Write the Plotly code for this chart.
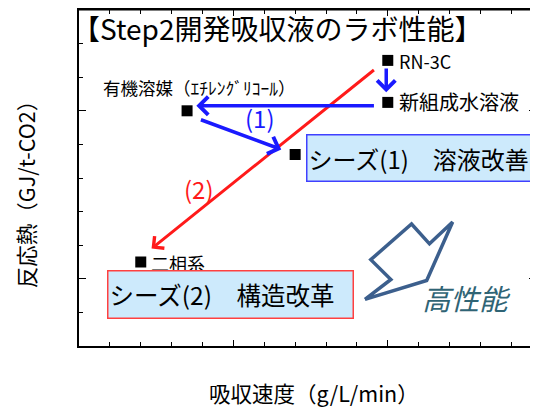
import plotly.graph_objects as go

# 各サンプルの位置（任意単位、目盛ラベルなし）
point_names = ['RN-3C', '新組成水溶液', '有機溶媒', 'シーズ(1)', '二相系']
point_x = [10.0, 10.0, 3.5, 7.0, 2.0]
point_y = [8.5, 7.25, 7.0, 5.7, 2.5]

# 矢印（始点 -> 終点）
red_arrow_x = [9.6, 2.35]
red_arrow_y = [8.25, 2.9]
blue_arrows_x = [[9.95, 9.95], [9.6, 3.8], [3.9, 6.55]]
blue_arrows_y = [[8.3, 7.55], [7.15, 7.15], [6.75, 5.85]]

# 「高性能」ブロック矢印の輪郭
perf_arrow_x = [9.26, 10.10, 9.45, 10.77, 11.35, 12.10, 11.26, 9.26]
perf_arrow_y = [1.39, 1.98, 2.57, 3.63, 3.04, 3.69, 1.95, 1.39]

title_text = '【Step2開発吸収液のラボ性能】'
x_title = '吸収速度（g/L/min）'
y_title = '反応熱（GJ/t-CO2）'
organic_label = '有機溶媒（ｴﾁﾚﾝｸﾞﾘｺｰﾙ）'
box_texts = ['シーズ(1)　溶液改善', 'シーズ(2)　構造改革']
perf_text = '高性能'

FONT = 'Noto Sans CJK JP'
BLUE = '#1a1aff'
RED = '#ff1a1a'
BOX_FILL = '#cdeafc'

fig = go.Figure()

fig.add_trace(go.Scatter(
    x=perf_arrow_x, y=perf_arrow_y, mode='lines',
    line=dict(color='#3c5f8d', width=3.5),
    hoverinfo='skip'
))

fig.add_trace(go.Scatter(
    x=point_x, y=point_y, mode='markers', text=point_names,
    marker=dict(symbol='square', size=11, color='black'),
))

# 矢印
fig.add_annotation(x=red_arrow_x[1], y=red_arrow_y[1], ax=red_arrow_x[0], ay=red_arrow_y[0],
                   xref='x', yref='y', axref='x', ayref='y', text='', showarrow=True,
                   arrowhead=4, arrowsize=1, arrowwidth=3, arrowcolor=RED)
for ax_, ay_ in zip(blue_arrows_x, blue_arrows_y):
    fig.add_annotation(x=ax_[1], y=ay_[1], ax=ax_[0], ay=ay_[0],
                       xref='x', yref='y', axref='x', ayref='y', text='', showarrow=True,
                       arrowhead=4, arrowsize=1, arrowwidth=3.5, arrowcolor=BLUE)

# ラベル
fig.add_annotation(x=point_x[0], y=point_y[0], text=point_names[0], showarrow=False,
                   xanchor='left', xshift=9, yshift=-1, font=dict(size=18))
fig.add_annotation(x=point_x[1], y=point_y[1], text=point_names[1], showarrow=False,
                   xanchor='left', xshift=9, yshift=1, font=dict(size=20))
fig.add_annotation(x=point_x[2], y=point_y[2], text=organic_label, showarrow=False,
                   xanchor='center', xshift=12, yshift=23, font=dict(size=17.5))
fig.add_annotation(x=point_x[4], y=point_y[4], text=point_names[4], showarrow=False,
                   xanchor='left', xshift=8, yshift=-1, font=dict(size=18))

fig.add_annotation(x=5.85, y=6.8, text='(1)', showarrow=False, font=dict(size=24, color=BLUE))
fig.add_annotation(x=3.9, y=4.7, text='(2)', showarrow=False, font=dict(size=24, color=RED))

# シーズの枠
fig.add_annotation(x=point_x[3], y=point_y[3], text=box_texts[0], showarrow=False,
                   xanchor='left', yanchor='middle', xshift=11, yshift=-4,
                   width=232, height=43, align='left', borderpad=1,
                   bgcolor=BOX_FILL, bordercolor='#4040ff', borderwidth=1.5,
                   font=dict(size=24))
fig.add_annotation(x=point_x[4], y=point_y[4], text=box_texts[1], showarrow=False,
                   xanchor='left', yanchor='middle', xshift=-34, yshift=-32,
                   width=242, height=44, align='left', borderpad=1,
                   bgcolor=BOX_FILL, bordercolor='#ff4040', borderwidth=1.5,
                   font=dict(size=24.5))

fig.add_annotation(x=11.05, y=1.45, text=perf_text, showarrow=False, xanchor='left',
                   font=dict(size=28.5, color='#2f6475', style='italic'))

# タイトル・軸タイトル
fig.add_annotation(xref='paper', yref='paper', x=-0.02, y=0.946, text=title_text,
                   showarrow=False, xanchor='left', yanchor='middle', font=dict(size=28))
fig.add_annotation(xref='paper', yref='paper', x=0.514, y=-0.139, text=x_title,
                   showarrow=False, xanchor='center', yanchor='middle', font=dict(size=21.5))
fig.add_annotation(xref='paper', yref='paper', x=-0.118, y=0.467, text=y_title, textangle=-90,
                   showarrow=False, xanchor='center', yanchor='middle', font=dict(size=21.5))

fig.add_shape(type='line', xref='paper', yref='paper', x0=0, x1=1, y0=1, y1=1,
              line=dict(color='black', width=1))

# ページ本体の余白(8px)を差し引いたサイズ
fig.update_layout(
    width=530, height=402,
    margin=dict(l=71, r=0, t=0, b=64),
    plot_bgcolor='white', paper_bgcolor='white',
    showlegend=False,
    font=dict(family=FONT, color='black'),
)
fig.update_xaxes(range=[0, 14.8], showgrid=False, zeroline=False, showticklabels=False,
                 showline=True, linecolor='black', linewidth=2, mirror='ticks',
                 ticks='inside', tick0=0, dtick=5, ticklen=6, tickwidth=1, tickcolor='black',
                 minor=dict(ticks='inside', dtick=1, ticklen=4, tickwidth=1, tickcolor='black', showgrid=False))
fig.update_yaxes(range=[0, 10], showgrid=False, zeroline=False, showticklabels=False,
                 showline=True, linecolor='black', linewidth=2, mirror='ticks',
                 ticks='inside', tick0=2, dtick=5, ticklen=7, tickwidth=1, tickcolor='black',
                 minor=dict(ticks='inside', dtick=1, ticklen=4, tickwidth=1, tickcolor='black', showgrid=False))

fig.write_html('out.html')
